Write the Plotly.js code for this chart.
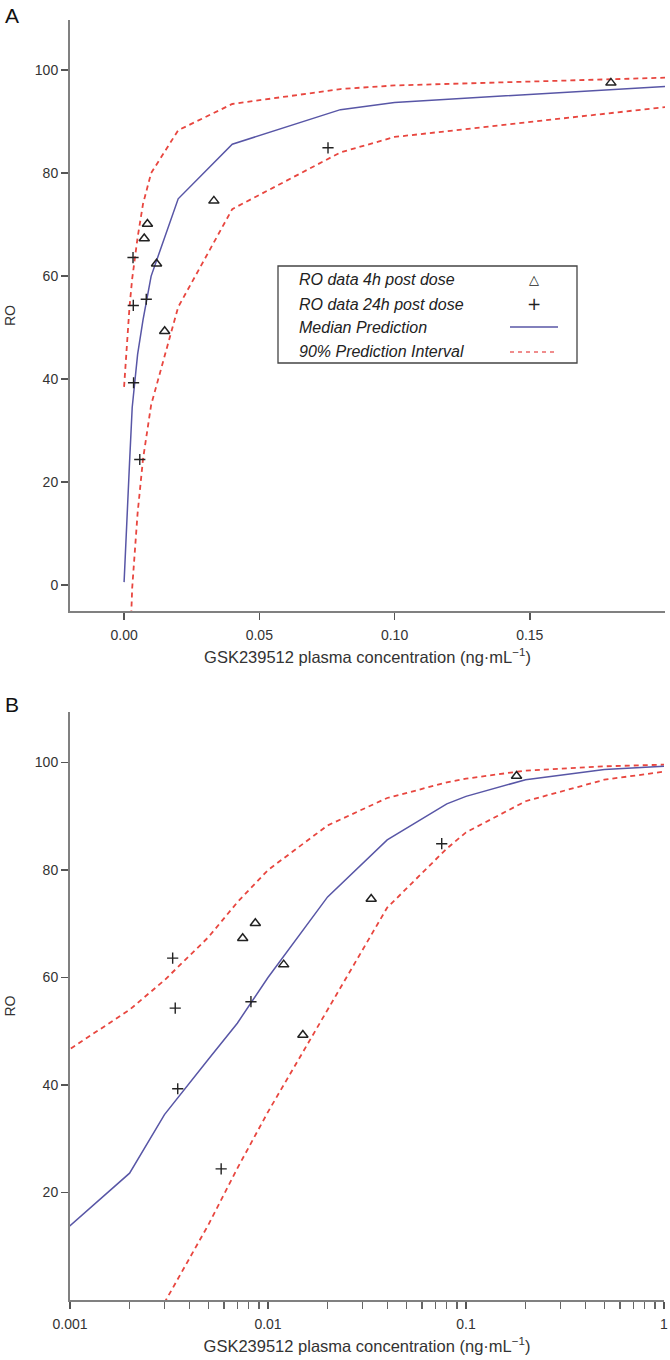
<!DOCTYPE html>
<html>
<head>
<meta charset="utf-8">
<script src="https://cdn.plot.ly/plotly-3.0.1.min.js"></script>
<style>
html, body { margin: 0; padding: 0; background: #fff; }
#chart { width: 670px; height: 1360px; }
</style>
</head>
<body>
<div id="chart"></div>
<script>
// observed receptor occupancy
var conc4h = [0.00745, 0.00863, 0.0120, 0.0150, 0.0332, 0.180];
var ro4h = [67.3, 70.1, 62.4, 49.3, 74.6, 97.5];
var conc24h = [0.0033, 0.0034, 0.0035, 0.0058, 0.0082, 0.0754];
var ro24h = [63.6, 54.3, 39.3, 24.4, 55.5, 84.9];

// model prediction (median and 90% interval)
var predConc = [0, 0.001, 0.002, 0.003, 0.005, 0.007, 0.01, 0.02, 0.04, 0.08, 0.1, 0.2, 0.5, 1];
var predMedian = [0.6, 13.8, 23.6, 34.5, 44.8, 51.5, 60, 75, 85.6, 92.3, 93.7, 96.8, 98.7, 99.3];
var predUpper = [38.5, 46.7, 54, 59.5, 67.5, 74, 80, 88.3, 93.4, 96.3, 97, 98.5, 99.3, 99.6];
var predLower = [-60, -35, -15, -0.5, 14, 24.5, 35, 54, 73, 84, 87, 92.8, 96.8, 98.3];

var legendLabels = ['RO data 4h post dose', 'RO data 24h post dose', 'Median Prediction', '90% Prediction Interval'];

var W = 670, H = 1360;
function px(x) { return x / W; }
function py(y) { return 1 - y / H; }

var blue = '#5856a6';
var red = '#e8463f';
var ink = '#222';
var sans = 'Liberation Sans, Arial, sans-serif';

function panelTraces(xa, ya) {
    return [
        {x: predConc, y: predUpper, xaxis: xa, yaxis: ya, mode: 'lines',
         line: {color: red, width: 1.8, dash: '5px,4px'}},
        {x: predConc, y: predLower, xaxis: xa, yaxis: ya, mode: 'lines',
         line: {color: red, width: 1.8, dash: '5px,4px'}},
        {x: predConc, y: predMedian, xaxis: xa, yaxis: ya, mode: 'lines',
         line: {color: blue, width: 1.5}},
        {x: conc4h, y: ro4h, xaxis: xa, yaxis: ya, mode: 'markers',
         marker: {symbol: 'triangle-up-open', size: 9, color: ink, line: {color: ink, width: 1.5}}},
        {x: conc24h, y: ro24h, xaxis: xa, yaxis: ya, mode: 'markers',
         marker: {symbol: 'cross-thin-open', size: 8, color: ink, line: {color: ink, width: 1.4}}}
    ];
}

var data = panelTraces('x', 'y').concat(panelTraces('x2', 'y2'));

var axisFont = {family: sans, size: 14, color: '#333'};
var titleFont = {family: sans, size: 16.5, color: '#333'};
var baseAxis = {
    showline: true, linecolor: '#808080', linewidth: 2,
    showgrid: false, zeroline: false,
    ticks: 'outside', ticklen: 7, tickwidth: 1.5, tickcolor: '#555',
    tickfont: axisFont, fixedrange: true
};
var xTitle = 'GSK239512 plasma concentration (ng·mL<sup>−1</sup>)';

// log ticks for panel B: labelled decades, unlabelled 2..9 minors
var decadeTicks = [0.001, 0.01, 0.1, 1];
var decadeText = ['0.001', '0.01', '0.1', '1'];
var minorTicks = [];
[0.001, 0.01, 0.1].forEach(function (d) {
    for (var k = 2; k <= 9; k++) minorTicks.push(+(d * k).toPrecision(3));
});

var layout = {
    width: W, height: H,
    margin: {l: 0, r: 0, t: 0, b: 0},
    paper_bgcolor: '#fff', plot_bgcolor: '#fff',
    showlegend: false,
    xaxis: Object.assign({}, baseAxis, {
        domain: [px(70), px(665)], range: [-0.02, 0.2], anchor: 'y',
        tickvals: [0, 0.05, 0.1, 0.15], tickformat: '.2f', ticklabelstandoff: 3,
        title: {text: xTitle, font: titleFont, standoff: 10}
    }),
    yaxis: Object.assign({}, baseAxis, {
        domain: [py(611), py(20)], range: [-5, 109.7], anchor: 'x',
        tickvals: [0, 20, 40, 60, 80, 100],
        title: {text: 'RO', font: {family: sans, size: 14, color: '#333'}, standoff: 16}
    }),
    xaxis2: Object.assign({}, baseAxis, {
        type: 'log', domain: [px(70), px(664)], range: [-3, 0], anchor: 'y2',
        tickvals: decadeTicks, ticktext: decadeText, ticklabelstandoff: 3,
        minor: {tickvals: minorTicks, ticks: 'outside', ticklen: 7, tickwidth: 1.3, tickcolor: '#666'},
        title: {text: xTitle, font: titleFont, standoff: 10}
    }),
    yaxis2: Object.assign({}, baseAxis, {
        domain: [py(1300), py(712)], range: [0, 109.4], anchor: 'x2',
        tickvals: [20, 40, 60, 80, 100],
        title: {text: 'RO', font: {family: sans, size: 14, color: '#333'}, standoff: 16}
    }),
    shapes: [
        // legend box
        {type: 'rect', xref: 'paper', yref: 'paper', x0: px(278), x1: px(577), y0: py(363), y1: py(266),
         line: {color: '#444', width: 1.3}, fillcolor: '#fff', layer: 'above'},
        {type: 'line', xref: 'paper', yref: 'paper', x0: px(510), x1: px(558), y0: py(327), y1: py(327),
         line: {color: blue, width: 1.5}, layer: 'above'},
        {type: 'line', xref: 'paper', yref: 'paper', x0: px(510), x1: px(558), y0: py(352), y1: py(352),
         line: {color: '#f08c8c', width: 1.8, dash: '4px,4px'}, layer: 'above'}
    ],
    annotations: []
};

var rowY = [280, 304, 327, 352];
legendLabels.forEach(function (t, i) {
    layout.annotations.push({
        xref: 'paper', yref: 'paper', x: px(297), y: py(rowY[i]), xanchor: 'left', yanchor: 'middle',
        text: '<i>' + t + '</i>', showarrow: false,
        font: {family: sans, size: 16, color: ink}
    });
});
layout.annotations.push(
    {xref: 'paper', yref: 'paper', x: px(534), y: py(280), text: '△', showarrow: false,
     xanchor: 'center', yanchor: 'middle', font: {family: 'DejaVu Sans', size: 13, color: ink}},
    {xref: 'paper', yref: 'paper', x: px(534), y: py(304), text: '+', showarrow: false,
     xanchor: 'center', yanchor: 'middle', font: {family: 'DejaVu Sans', size: 17, color: ink}},
    {xref: 'paper', yref: 'paper', x: px(3), y: py(16), text: 'A', showarrow: false,
     xanchor: 'left', yanchor: 'middle', font: {family: sans, size: 21, color: '#111'}},
    {xref: 'paper', yref: 'paper', x: px(3), y: py(704), text: 'B', showarrow: false,
     xanchor: 'left', yanchor: 'middle', font: {family: sans, size: 21, color: '#111'}}
);

Plotly.newPlot('chart', data, layout, {displayModeBar: false, staticPlot: true});
</script>
</body>
</html>
